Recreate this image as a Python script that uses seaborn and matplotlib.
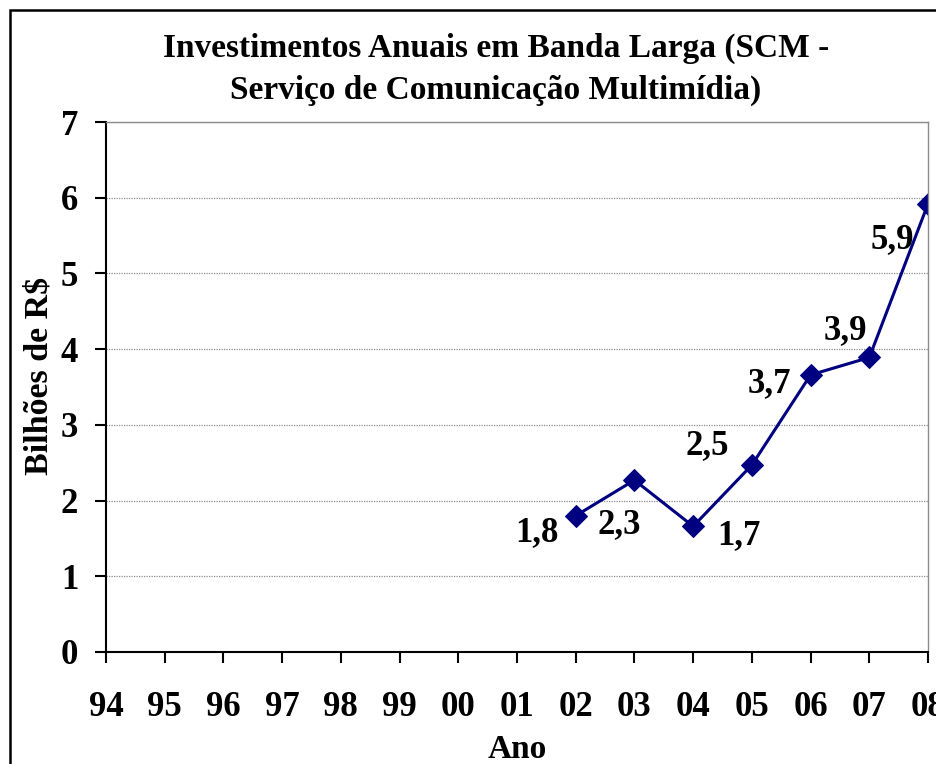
import matplotlib
matplotlib.use("Agg")
from matplotlib import pyplot as plt
from matplotlib.patches import Rectangle
import seaborn as sns
import pandas as pd

# categories on the x axis (all years shown)
anos = ["94", "95", "96", "97", "98", "99", "00", "01", "02", "03", "04", "05", "06", "07", "08"]
# years with data and their values (billions R$)
anos_dados = ["02", "03", "04", "05", "06", "07", "08"]
valores = [1.80, 2.27, 1.66, 2.47, 3.66, 3.89, 5.92]
rotulos = ["1,8", "2,3", "1,7", "2,5", "3,7", "3,9", "5,9"]
# label offsets in points (dx, dy) relative to each marker
offsets = [(-28, -12), (-11, -32), (33, -7), (-32, 14), (-30, -6), (-17, 19), (-26, -26)]

sns.set_style("white")
plt.rcParams["font.family"] = ["Liberation Serif", "DejaVu Serif"]
plt.rcParams["font.weight"] = "bold"
plt.rcParams["text.color"] = "black"
plt.rcParams["axes.labelcolor"] = "black"
plt.rcParams["xtick.color"] = "black"
plt.rcParams["ytick.color"] = "black"

df = pd.DataFrame({"pos": [anos.index(a) for a in anos_dados], "valor": valores})

fig = plt.figure(figsize=(9.36, 7.64), dpi=100)
ax = fig.add_axes([0.1132, 0.1466, 0.8783, 0.6937])

sns.lineplot(data=df, x="pos", y="valor", ax=ax, color="#000080", linewidth=2.2,
             marker="D", markersize=11, markeredgecolor="#000080")

for x, y, t, (dx, dy) in zip(df["pos"], df["valor"], rotulos, offsets):
    ax.annotate(t, (x, y), xytext=(dx, dy), textcoords="offset points",
                ha="center", va="center", fontsize=25, fontweight="bold", color="black",
                annotation_clip=False)

ax.set_xlim(0, len(anos) - 1)
ax.set_ylim(0, 7)
ax.set_xticks(range(len(anos)))
ax.set_xticklabels(anos)
ax.set_yticks(range(0, 8))
ax.tick_params(axis="x", bottom=True, direction="out", length=8, width=1.5, pad=20, labelsize=25, colors="black")
ax.tick_params(axis="y", left=True, direction="out", length=8, width=1.5, pad=12, labelsize=25, colors="black")
for lab in ax.get_xticklabels() + ax.get_yticklabels():
    lab.set_fontweight("bold")

ax.yaxis.grid(True, color="#8c8c8c", linestyle=(0, (1, 1)), linewidth=0.9)
ax.xaxis.grid(False)
for side in ["left", "bottom"]:
    ax.spines[side].set_color("black")
    ax.spines[side].set_linewidth(1.5)
for side in ["top", "right"]:
    ax.spines[side].set_color("#8c8c8c")
    ax.spines[side].set_linewidth(1.0)

ax.set_xlabel("Ano", fontsize=24, fontweight="bold", labelpad=7)
ax.set_ylabel("")
fig.text(39 / 936, 1 - 376 / 764, "Bilhões de R$", rotation=90, ha="center", va="center",
         fontsize=24.5, fontweight="bold")

fig.text(0.53, 0.909, "Investimentos Anuais em Banda Larga (SCM -\nServiço de Comunicação Multimídia)",
         ha="center", va="center", fontsize=24, fontweight="bold", linespacing=1.42)

fig.patches.append(Rectangle((0.0107, -0.05), 1.2, 0.037 + 1.0, transform=fig.transFigure,
                             fill=False, edgecolor="black", linewidth=1.8))

fig.savefig("out.png", dpi=100)
